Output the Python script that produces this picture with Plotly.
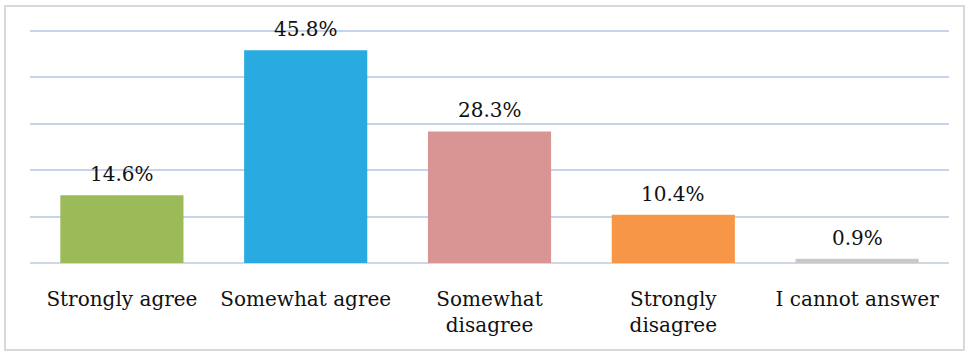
import plotly.graph_objects as go

categories = ["Strongly agree", "Somewhat agree", "Somewhat<br>disagree", "Strongly<br>disagree", "I cannot answer"]
values = [14.6, 45.8, 28.3, 10.4, 0.9]
labels = ["14.6%", "45.8%", "28.3%", "10.4%", "0.9%"]
colors = ["#9bbb59", "#29abe2", "#d99594", "#f79646", "#c9c9c9"]

W, H = 970, 355
ml, mr, mt, mb = 30, 21, 26, 92
FONT = "DejaVu Serif"
FS = 20

fig = go.Figure(go.Bar(x=categories, y=values, marker=dict(color=colors, line=dict(width=0)),
                       hoverinfo="skip"))

for c, v, t in zip(categories, values, labels):
    fig.add_annotation(x=c, y=v, text=t, showarrow=False, yanchor="middle", yshift=21,
                       font=dict(family=FONT, size=FS, color="#111111"))

pw = W - ml - mr
ph = H - mt - mb
fig.add_shape(type="rect", xref="paper", yref="paper",
              x0=(5 - ml) / pw, x1=(964 - ml) / pw,
              y0=(H - mb - 350) / ph, y1=(H - mb - 6) / ph,
              line=dict(color="#d9d9d9", width=2), fillcolor="rgba(0,0,0,0)", layer="below")

fig.update_layout(
    width=W, height=H, margin=dict(l=ml, r=mr, t=mt, b=mb, autoexpand=False),
    paper_bgcolor="white", plot_bgcolor="white",
    bargap=0.33, showlegend=False,
    font=dict(family=FONT, size=FS, color="#111111"),
    xaxis=dict(showgrid=False, showline=False, ticks="", tickfont=dict(size=FS),
               ticklabelstandoff=22, automargin=False),
    yaxis=dict(range=[0, 51], tickvals=[0, 10, 20, 30, 40, 50], showgrid=True,
               gridcolor="#c5d4e8", gridwidth=1.5, automargin=False,
               showticklabels=False, zeroline=True, zerolinecolor="#d0d8e4", zerolinewidth=1.5,
               showline=False, ticks=""),
)

fig.write_html("out.html", config={"displayModeBar": False},
               post_script="document.body.style.margin='0px';document.body.style.overflow='hidden';")
